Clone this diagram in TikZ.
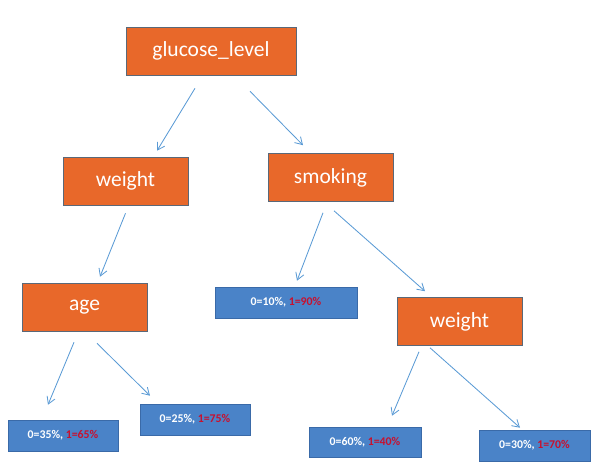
\documentclass[tikz,border=0pt]{standalone}
\usepackage{fontspec}
\setmainfont{Carlito}
\usetikzlibrary{arrows.meta}
\definecolor{NodeOrange}{HTML}{E8682A}
\definecolor{NodeEdge}{HTML}{5A6878}
\definecolor{LeafBlue}{HTML}{4A83C8}
\definecolor{LeafEdge}{HTML}{3A6AA8}
\definecolor{LinkBlue}{HTML}{5B9BD5}
\definecolor{OneRed}{HTML}{C8102E}
\tikzset{
  split/.style={draw=NodeEdge, fill=NodeOrange, text=white, minimum width=3.125cm, minimum height=1.2cm, inner sep=0pt, font=\fontsize{15.3}{18}\selectfont},
  leaf/.style={draw=LeafEdge, fill=LeafBlue, text=white, minimum width=2.75cm, minimum height=0.775cm, inner sep=0pt, font=\fontsize{8.4}{10}\selectfont\bfseries},
  link/.style={draw=LinkBlue, line width=0.6pt, -{Straight Barb[length=5pt,width=6pt]}}
}
\newcommand{\odds}[2]{0=#1\%, \textcolor{OneRed}{1=#2\%}}
\begin{document}
\begin{tikzpicture}
    \useasboundingbox (0,0) rectangle (15.1,11.75);
%   split nodes
    \node[split, minimum width=4.25cm] (glucose) at (5.275,10.475) {glucose\_level};
    \node[split] (weightL) at (3.1375,7.225) {weight};
    \node[split] (smoking) at (8.2625,7.3125) {smoking};
    \node[split] (age) at (2.1125,4.075) {age};
    \node[split] (weightR) at (11.4875,3.7125) {weight};
%   leaves
    \node[leaf, minimum width=3.55cm] (leafTen) at (7.15,4.1875) {\odds{10}{90}};
    \node[leaf] (leafThirtyFive) at (1.575,0.8625) {\odds{35}{65}};
    \node[leaf] (leafTwentyFive) at (4.875,1.2625) {\odds{25}{75}};
    \node[leaf, minimum width=2.8cm, minimum height=0.75cm] (leafSixty) at (9.125,0.7) {\odds{60}{40}};
    \node[leaf, minimum width=2.775cm] (leafThirty) at (13.3625,0.6125) {\odds{30}{70}};
%   links
    \draw[link] ([shift={(-0.4,-0.325)}]glucose.south) -- ([shift={(0.7875,0.15)}]weightL.north);
    \draw[link] ([shift={(0.975,-0.4)}]glucose.south) -- ([shift={(-0.6875,0.2)}]smoking.north);
    \draw[link] ([shift={(0,-0.2)}]weightL.south) -- ([shift={(0.3875,0.15)}]age.north);
    \draw[link] ([shift={(-0.1875,-0.275)}]smoking.south) -- ([shift={(0.275,0.15)}]leafTen.north);
    \draw[link] ([shift={(0.0875,-0.225)}]smoking.south) -- ([shift={(-0.8625,0.15)}]weightR.north);
    \draw[link] ([shift={(-0.2625,-0.275)}]age.south) -- ([shift={(-0.375,0.375)}]leafThirtyFive.north);
    \draw[link] ([shift={(0.3125,-0.3)}]age.south) -- ([shift={(-1.125,0.2)}]leafTwentyFive.north);
    \draw[link] ([shift={(-1.0125,-0.15)}]weightR.south) -- ([shift={(0.675,0.275)}]leafSixty.north);
    \draw[link] ([shift={(-0.7375,-0.05)}]weightR.south) -- ([shift={(-0.3625,0.05)}]leafThirty.north);
\end{tikzpicture}
\end{document}
